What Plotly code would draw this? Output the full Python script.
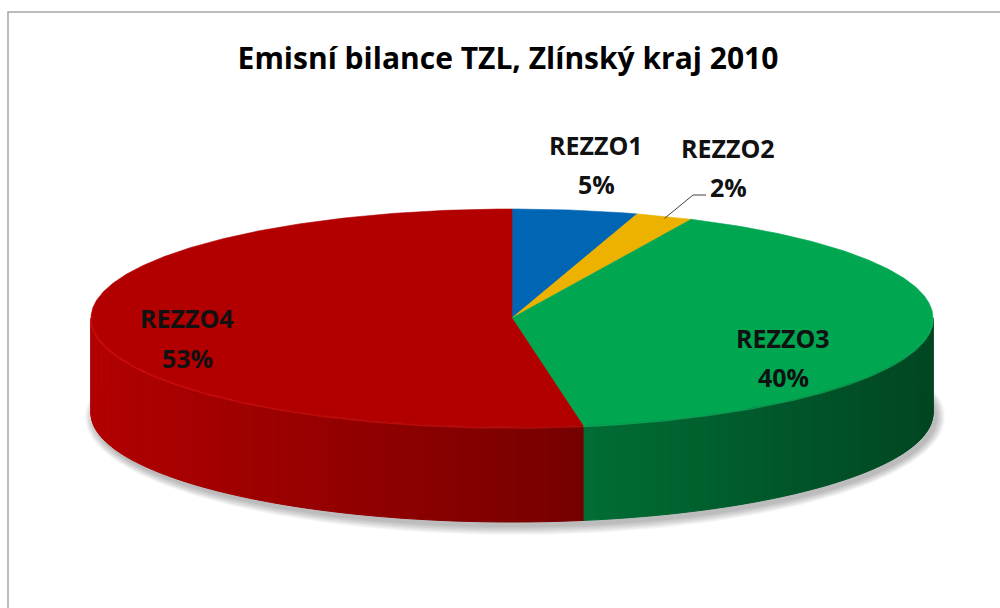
import numpy as np
import plotly.graph_objects as go

# ---------------- data ----------------
categories = ["REZZO1", "REZZO2", "REZZO3", "REZZO4"]
shares = [4.8, 2.2, 40.3, 52.7]          # share of TZL emissions (%)
slice_colors = ["#0066B3", "#EDB200", "#00A650", "#B20000"]
title_text = "Emisní bilance TZL, Zlínský kraj 2010"

# ---------------- layout geometry (pixels) ----------------
W, H = 1000, 608
CX, CY, RX, RY, DEPTH = 512, 318, 421, 109, 95
label_pos = {  # x, y of name line, y of percent line
    "REZZO1": (596, 145, 184),
    "REZZO2": (728, 148, 187),
    "REZZO3": (783, 338, 377),
    "REZZO4": (187, 318, 358),
}
FONT = "Open Sans"


def hex_rgb(h):
    h = h.lstrip("#")
    return tuple(int(h[i:i + 2], 16) for i in (0, 2, 4))


def ell(phi_deg, dy=0.0):
    p = np.radians(np.asarray(phi_deg, dtype=float))
    return CX + RX * np.sin(p), CY - RY * np.cos(p) + dy


total = float(sum(shares))
bounds = np.concatenate([[0.0], np.cumsum(shares)]) / total * 360.0

fig = go.Figure()


def poly(xs, ys, fill, line_color=None, lw=0.0, opacity=1.0):
    fig.add_trace(go.Scatter(
        x=xs, y=ys, mode="lines", fill="toself", fillcolor=fill,
        line=dict(color=line_color or fill, width=lw),
        opacity=opacity, hoverinfo="skip", showlegend=False))


# soft shadow under the pie
t = np.linspace(0, 360, 241)
for k in range(9, 0, -1):
    p = np.radians(t)
    xs = CX + 3 + (RX + k) * np.sin(p)
    ys = CY + DEPTH + 4 - (RY + k) * np.cos(p)
    poly(xs, ys, "rgba(0,0,0,0.03)")

# side walls (front half), shaded by orientation
for i, (a0, a1) in enumerate(zip(bounds[:-1], bounds[1:])):
    lo, hi = max(a0, 90.0), min(a1, 270.0)
    if hi <= lo:
        continue
    n = max(2, int(np.ceil(hi - lo)))
    edges = np.linspace(lo, hi, n + 1)
    r, g, b = hex_rgb(slice_colors[i])
    for e0, e1 in zip(edges[:-1], edges[1:]):
        mid = 0.5 * (e0 + e1)
        f = 0.71 - 0.29 * np.sin(np.radians(mid))
        col = f"rgb({r * f:.0f},{g * f:.0f},{b * f:.0f})"
        arc = np.linspace(e0, e1, 3)
        xt, yt = ell(arc)
        xs = list(xt) + list(xt[::-1]) + [xt[0]]
        ys = list(yt) + list((yt + DEPTH)[::-1]) + [yt[0]]
        poly(xs, ys, col, lw=1.0)

# top surface
for i, (a0, a1) in enumerate(zip(bounds[:-1], bounds[1:])):
    arc = np.linspace(a0, a1, max(4, int((a1 - a0) * 2)))
    xt, yt = ell(arc)
    xs = [CX] + list(xt) + [CX]
    ys = [CY] + list(yt) + [CY]
    poly(xs, ys, slice_colors[i], lw=0.6)

# subtle rim highlight along the front edge of the top surface
for i, (a0, a1) in enumerate(zip(bounds[:-1], bounds[1:])):
    lo, hi = max(a0, 90.0), min(a1, 270.0)
    if hi <= lo:
        continue
    r, g, b = hex_rgb(slice_colors[i])
    col = f"rgb({min(255, r * 1.2 + 25):.0f},{min(255, g * 1.2 + 25):.0f},{min(255, b * 1.2 + 25):.0f})"
    arc = np.linspace(lo, hi, int((hi - lo) * 2) + 2)
    xt, yt = ell(arc)
    fig.add_trace(go.Scatter(x=xt, y=yt + 1, mode="lines",
                             line=dict(color=col, width=1.5), opacity=0.45,
                             hoverinfo="skip", showlegend=False))

# leader line for REZZO2
mid2 = 0.5 * (bounds[1] + bounds[2])
sx, sy = ell(mid2, dy=2)
fig.add_trace(go.Scatter(x=[float(sx), 693, 706], y=[float(sy), 195, 195], mode="lines",
                         line=dict(color="#404040", width=1), hoverinfo="skip",
                         showlegend=False))

# data labels
annotations = []
for i, cat in enumerate(categories):
    lx, ly1, ly2 = label_pos[cat]
    pct = f"{shares[i] / total * 100:.0f}%"
    for txt, yy in ((cat, ly1), (pct, ly2)):
        annotations.append(dict(
            x=lx, y=yy, xref="x", yref="y", text=f"<b>{txt}</b>",
            showarrow=False, xanchor="center", yanchor="middle",
            font=dict(family=FONT, size=25, color="#111111")))

fig.update_layout(
    width=W, height=H,
    margin=dict(l=0, r=0, t=0, b=0),
    paper_bgcolor="white", plot_bgcolor="white",
    xaxis=dict(range=[0, W], visible=False, fixedrange=True),
    yaxis=dict(range=[H, 0], visible=False, fixedrange=True),
    title=dict(text=f"<b>{title_text}</b>", x=0.508, y=1 - 58 / H,
               xanchor="center", yanchor="middle",
               font=dict(family=FONT, size=30, color="#000000")),
    annotations=annotations,
    shapes=[dict(type="rect", xref="x", yref="y", x0=8, y0=12, x1=1012, y1=622,
                 line=dict(color="#A6A6A6", width=1.5), fillcolor="rgba(0,0,0,0)",
                 layer="above")],
    showlegend=False,
)

fig.write_html("out.html", config={"displayModeBar": False, "staticPlot": True},
               post_script="document.body.style.margin='0';document.body.style.overflow='hidden';")
